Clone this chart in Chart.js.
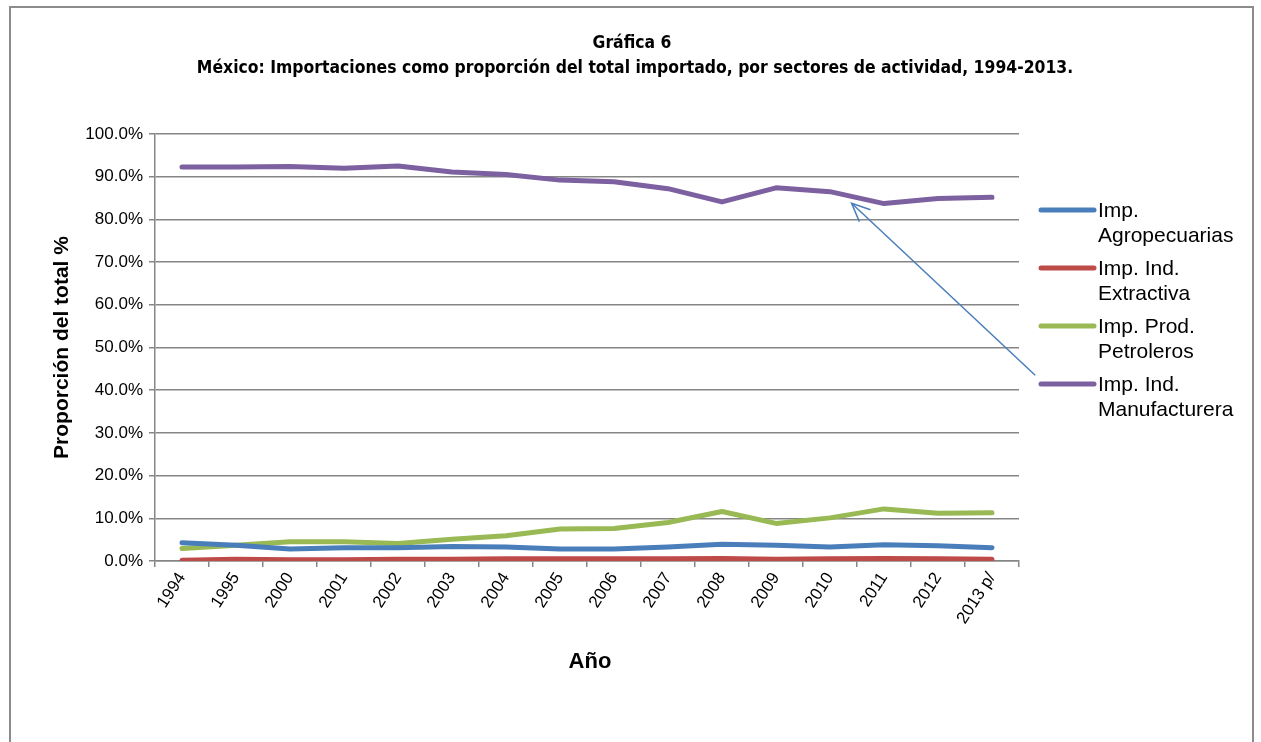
<!DOCTYPE html>
<html><head><meta charset="utf-8">
<script src="https://cdn.jsdelivr.net/npm/chart.js@4.4.1/dist/chart.umd.min.js"></script>
<style>html,body{margin:0;padding:0;background:#fff;}#wrap{position:relative;width:1261px;height:742px;}</style>
</head><body><div id="wrap"><canvas id="c" width="1261" height="742"></canvas></div>
<script>
const categories = ["1994","1995","2000","2001","2002","2003","2004","2005","2006","2007","2008","2009","2010","2011","2012","2013 p/"];
const agropecuarias = [4.3,3.7,2.8,3.1,3.1,3.4,3.3,2.8,2.8,3.3,3.9,3.7,3.3,3.8,3.6,3.1];
const extractiva = [0.2,0.4,0.3,0.3,0.4,0.4,0.5,0.5,0.5,0.5,0.6,0.4,0.5,0.6,0.5,0.4];
const petroleros = [2.9,3.7,4.5,4.5,4.1,5.1,5.9,7.5,7.6,9.0,11.6,8.8,10.1,12.2,11.2,11.3];
const manufacturera = [92.3,92.3,92.4,92.0,92.5,91.1,90.5,89.2,88.8,87.2,84.1,87.4,86.5,83.7,84.9,85.2];
const seriesNames = ["Imp.\nAgropecuarias","Imp. Ind.\nExtractiva","Imp. Prod.\nPetroleros","Imp. Ind.\nManufacturera"];
const yTicks = [0,10,20,30,40,50,60,70,80,90,100];
const titleLines = ["Gráfica 6","México: Importaciones como proporción del total importado, por sectores de actividad, 1994-2013."];
const yTitle = "Proporción del total %";
const xTitle = "Año";
// arrow annotation: tip (category index, value) and tail
const arrowTip = [12.4, 83.8];
const arrowTail = [15.8, 43.5];

const colors = ["#4A7EBB","#BE4B48","#98B954","#7D60A0"];
const seriesData = [agropecuarias, extractiva, petroleros, manufacturera];

const deco = {
  id:'deco',
  beforeDraw(chart){
    const ctx = chart.ctx;
    ctx.save();
    ctx.fillStyle='#fff';ctx.fillRect(0,0,chart.width,chart.height);
    ctx.strokeStyle='#8c8c8c';ctx.lineWidth=2;
    ctx.strokeRect(10,7,1243,760);
    ctx.restore();
  },
  afterDraw(chart){
    const ctx = chart.ctx;
    const x = chart.scales.x, y = chart.scales.y;
    ctx.save();
    // title
    ctx.fillStyle='#000';ctx.textAlign='center';ctx.textBaseline='middle';
    ctx.font='bold 17.4px "DejaVu Sans Condensed", "Open Sans", sans-serif';
    ctx.fillText(titleLines[0], 632, 43);
    ctx.fillText(titleLines[1], 635, 68);
    // axis titles
    ctx.font='bold 22px "Liberation Sans", Arial, sans-serif';
    ctx.fillText(xTitle, 590, 662);
    ctx.translate(62, (chart.chartArea.top+chart.chartArea.bottom)/2);
    ctx.rotate(-Math.PI/2);
    ctx.font='bold 21px "Liberation Sans", Arial, sans-serif';
    ctx.fillText(yTitle, 0, 0);
    ctx.restore();
    // legend
    ctx.save();
    const rows=[210,268,326,384];
    ctx.lineCap='round';
    ctx.font='21px "Liberation Sans", Arial, sans-serif';
    ctx.textAlign='left';ctx.textBaseline='middle';
    chart.data.datasets.forEach((ds,i)=>{
      ctx.strokeStyle=ds.borderColor;ctx.lineWidth=5;
      ctx.beginPath();ctx.moveTo(1041,rows[i]);ctx.lineTo(1094,rows[i]);ctx.stroke();
      ctx.fillStyle='#000';
      seriesNames[i].split('\n').forEach((t,k)=>ctx.fillText(t,1098,rows[i]+1+k*25));
    });
    // arrow
    const tx=x.getPixelForValue(arrowTip[0]), ty=y.getPixelForValue(arrowTip[1]);
    const sx=x.getPixelForValue(arrowTail[0]), sy=y.getPixelForValue(arrowTail[1]);
    ctx.strokeStyle='#4A7EBB';ctx.lineWidth=1.5;ctx.lineCap='butt';
    ctx.beginPath();ctx.moveTo(sx,sy);ctx.lineTo(tx,ty);ctx.stroke();
    const ang=Math.atan2(ty-sy,tx-sx), L=20, a=0.42;
    ctx.beginPath();
    ctx.moveTo(tx-L*Math.cos(ang-a),ty-L*Math.sin(ang-a));
    ctx.lineTo(tx,ty);
    ctx.lineTo(tx-L*Math.cos(ang+a),ty-L*Math.sin(ang+a));
    ctx.stroke();
    ctx.restore();
  }
};

new Chart(document.getElementById('c'),{
  type:'line',
  data:{labels:categories,datasets:seriesData.map((d,i)=>({
    label:seriesNames[i].replace('\n',' '),data:d,borderColor:colors[i],backgroundColor:colors[i],
    borderWidth:5,pointRadius:0,tension:0,borderCapStyle:'round',borderJoinStyle:'round',fill:false
  }))},
  options:{
    responsive:false,animation:false,devicePixelRatio:1,
    layout:{padding:{left:0,top:134,right:242,bottom:0}},
    plugins:{legend:{display:false},title:{display:false},tooltip:{enabled:false}},
    scales:{
      x:{offset:true,
        grid:{offset:true,drawOnChartArea:false,drawTicks:true,tickLength:6,color:'#868686',lineWidth:1.5},
        border:{color:'#868686',width:1.5},
        ticks:{minRotation:57,maxRotation:57,color:'#000',padding:2,font:{family:'"Liberation Sans", Arial, sans-serif',size:17}},
        afterFit(s){s.height=181;}
      },
      y:{min:0,max:100,
        afterBuildTicks(s){s.ticks=yTicks.map(v=>({value:v}));},
        grid:{color:'#868686',lineWidth:1.5,tickLength:6},
        border:{color:'#868686',width:1.5},
        ticks:{color:'#000',padding:6,font:{family:'"Liberation Sans", Arial, sans-serif',size:17},callback:v=>v.toFixed(1)+'%'},
        afterFit(s){s.width=155;}
      }
    }
  },
  plugins:[deco]
});
</script></body></html>
